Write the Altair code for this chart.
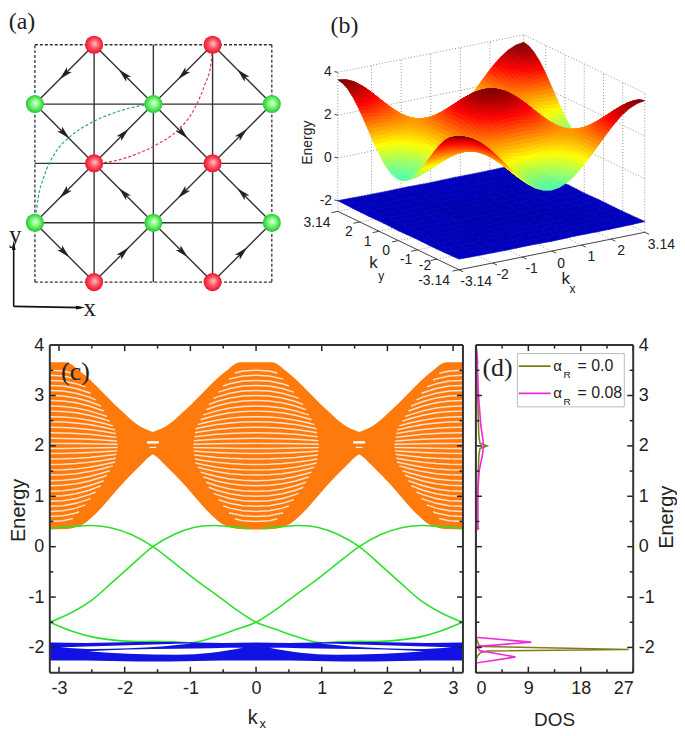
import math
import altair as alt
import numpy as np
import pandas as pd

SANS = "Liberation Sans"
SERIF = "Liberation Serif"

# ---------- panel (a) lattice ----------
RED_NODES = [(1, 0), (3, 0), (1, 2), (3, 2), (1, 4), (3, 4)]
GREEN_NODES = [(0, 1), (2, 1), (4, 1), (0, 3), (2, 3), (4, 3)]
ARROWS = [((1,0),(0,1)),((2,1),(1,0)),((3,0),(2,1)),((4,1),(3,0)),
          ((0,1),(1,2)),((1,2),(2,1)),((2,1),(3,2)),((3,2),(4,1)),
          ((1,2),(0,3)),((2,3),(1,2)),((3,2),(2,3)),((4,3),(3,2)),
          ((0,3),(1,4)),((1,4),(2,3)),((2,3),(3,4)),((3,4),(4,3))]
GRID_H = [1, 2, 3]
GRID_V = [1, 2, 3]
BOX = [(0,0,4,0),(4,0,4,4),(4,4,0,4),(0,4,0,0)]
GREEN_ARC = [(0,3),(0.056,2.58),(0.157,2.21),(0.325,1.85),(0.605,1.54),(0.94,1.32),(1.33,1.15),(1.67,1.05),(2,1)]
RED_ARC = [(1,2),(1.33,1.96),(1.67,1.86),(2.06,1.68),(2.39,1.46),(2.67,1.12),(2.87,0.67),(2.97,0.34),(3,0)]
AXIS_CORNER = (-0.358, 4.41)
AXIS_Y_TIP = (-0.358, 3.38)
AXIS_X_TIP = (0.773, 4.43)
A_TEXT = [("(a)", -0.218, -0.39, 24), ("y", -0.33, 3.21, 25), ("x", 0.924, 4.44, 25)]

# ---------- panel (b) surface: one quadrant of the upper band, k from -pi to 0 in pi/12 steps ----------
SURF_QUAD = [
 [3.65,3.59,3.43,3.17,2.83,2.43,2.00,1.57,1.18,0.83,0.57,0.41,0.35],
 [3.59,3.54,3.38,3.13,2.80,2.41,2.00,1.59,1.20,0.87,0.62,0.46,0.41],
 [3.43,3.38,3.24,3.01,2.71,2.37,2.00,1.63,1.29,0.99,0.76,0.62,0.57],
 [3.17,3.13,3.01,2.83,2.58,2.30,2.00,1.70,1.42,1.17,0.99,0.87,0.83],
 [2.83,2.80,2.71,2.58,2.41,2.21,2.00,1.79,1.59,1.42,1.29,1.20,1.18],
 [2.43,2.41,2.37,2.30,2.21,2.11,2.00,1.89,1.79,1.70,1.63,1.59,1.57],
 [2.00,2.00,2.00,2.00,2.00,2.00,2.00,2.00,2.00,2.00,2.00,2.00,2.00],
 [1.57,1.59,1.63,1.70,1.79,1.89,2.00,2.11,2.21,2.30,2.37,2.41,2.43],
 [1.18,1.20,1.29,1.42,1.59,1.79,2.00,2.21,2.41,2.58,2.71,2.80,2.83],
 [0.83,0.87,0.99,1.17,1.42,1.70,2.00,2.30,2.58,2.83,3.01,3.13,3.17],
 [0.57,0.62,0.76,0.99,1.29,1.63,2.00,2.37,2.71,3.01,3.24,3.38,3.43],
 [0.41,0.46,0.62,0.87,1.20,1.59,2.00,2.41,2.80,3.13,3.38,3.54,3.59],
 [0.35,0.41,0.57,0.83,1.18,1.57,2.00,2.43,2.83,3.17,3.43,3.59,3.65],
]
SHEET_Z = [
 [-2.00,-2.02,-2.03,-2.02,-2.04,-2.02,-2.03,-2.02,-2.00],
 [-2.02,-2.05,-2.07,-2.06,-2.05,-2.06,-2.07,-2.05,-2.02],
 [-2.03,-2.07,-2.10,-2.08,-2.06,-2.08,-2.10,-2.07,-2.03],
 [-2.02,-2.06,-2.08,-2.12,-2.10,-2.12,-2.08,-2.06,-2.02],
 [-2.04,-2.05,-2.06,-2.10,-2.14,-2.10,-2.06,-2.05,-2.04],
 [-2.02,-2.06,-2.08,-2.12,-2.10,-2.12,-2.08,-2.06,-2.02],
 [-2.03,-2.07,-2.10,-2.08,-2.06,-2.08,-2.10,-2.07,-2.03],
 [-2.02,-2.05,-2.07,-2.06,-2.05,-2.06,-2.07,-2.05,-2.02],
 [-2.00,-2.02,-2.03,-2.02,-2.04,-2.02,-2.03,-2.02,-2.00],
]
B_TICKS_K = [-2, -1, 0, 1, 2]
B_TICKS_Z = [-2, 0, 2, 4]
KX_LABELS = [(-3.14,"-3.14",52,37),(-2,"-2",30,37),(-1,"-1",28,37),(0,"0",28,39),(1,"1",30,37),(2,"2",30,36),(3.14,"3.14",50,38)]
KY_LABELS = [(3.14,"3.14",-63,36),(2,"2",-33,31),(1,"1",-35,32),(0,"0",-37,32),(-1,"-1",-35,31),(-2,"-2",-36,22),(-3.14,"-3.14",-75,35)]
JET_DOMAIN = [-2.4, -1.64, -0.13, 1.38, 2.89, 3.65]
JET_RANGE = ["#000080", "#0000ff", "#00ffff", "#ffff00", "#ff0000", "#800000"]

# ---------- panel (c) bands ----------
ORANGE_K = [-3.14,-2.9,-2.67,-2.37,-2.07,-1.77,-1.62,-1.57,-1.52,-1.37,-1.07,-0.77,-0.47,-0.24,0,
            0.24,0.47,0.77,1.07,1.37,1.52,1.57,1.62,1.77,2.07,2.37,2.67,2.9,3.14]
ORANGE_TOP = [3.66,3.66,3.47,3.11,2.72,2.39,2.30,2.28,2.30,2.39,2.72,3.11,3.47,3.66,3.66,
              3.66,3.47,3.11,2.72,2.39,2.30,2.28,2.30,2.39,2.72,3.11,3.47,3.66,3.66]
ORANGE_BOT = [0.34,0.35,0.42,0.75,1.20,1.60,1.79,1.83,1.79,1.60,1.20,0.75,0.42,0.35,0.34,
              0.35,0.42,0.75,1.20,1.60,1.79,1.83,1.79,1.60,1.20,0.75,0.42,0.35,0.34]
STRIPE_LEVELS = [0.05,0.15,0.26,0.37,0.48,0.58,0.69,0.79,0.90,1.00,1.10,1.20,1.30,1.40,1.50]
STRIPE_A = [0, 0.5, 1.0, 1.3, 1.55]
STRIPE_W = [0.96, 0.92, 0.72, 0.5, 0.28]
PROFILE_T = [0, 0.2, 0.4, 0.6, 0.8, 1.0, 1.1]
PROFILE_G = [1, 0.99, 0.95, 0.88, 0.78, 0.66, 0.60]
LOBES = [(-3.14, 1, 1.08), (0, 1, 1.0), (0, -1, 1.0), (3.14, -1, 1.08)]
EYE = [(-1.66,-1.48,2.07,2.4),(1.48,1.66,2.07,2.4),(-1.62,-1.52,1.97,1.0),(1.52,1.62,1.97,1.0)]

GREEN_1K = [-3.14,-2.8,-2.5,-2.2,-1.9,-1.57,-1.25,-0.95,-0.65,-0.35,-0.1]
GREEN_1E = [-1.5,-1.3,-1.06,-0.72,-0.37,0,0.24,0.38,0.42,0.39,0.36]
GREEN_3K = [-3.14,-2.8,-2.5,-2.2,-1.9,-1.57,-1.25,-0.93,-0.6,-0.3,0,0.3,0.6,0.9,1.2,1.57,1.9,2.2,2.5,2.8,3.14]
GREEN_3E = [-1.5,-1.68,-1.79,-1.85,-1.88,-1.88,-1.89,-1.9,-1.78,-1.64,-1.5,-1.25,-0.96,-0.68,-0.37,0,0.24,0.37,0.42,0.40,0.36]

BLUE_K = [-3.14,-2.6,-2.2,-1.8,-1.3,-0.9,-0.5,0,0.5,0.9,1.3,1.8,2.2,2.6,3.14]
BLUE_TOP = [-1.90,-1.91,-1.90,-1.89,-1.89,-1.90,-1.91,-1.90,-1.91,-1.90,-1.89,-1.89,-1.90,-1.91,-1.90]
BLUE_BOT = [-2.26,-2.26,-2.27,-2.28,-2.28,-2.27,-2.26,-2.26,-2.26,-2.27,-2.28,-2.28,-2.27,-2.26,-2.26]
GAP1_K = [-2.98,-2.45,-1.94,-1.44,-0.98]
GAP1_HI = [-2.00,-1.975,-1.955,-1.935,-1.922]
GAP1_LO = [-2.00,-2.03,-2.015,-1.981,-1.922]
GAP2_K = [-2.55,-1.94,-1.19,-0.68,-0.20]
GAP2_HI = [-2.073,-2.04,-2.027,-2.014,-2.008]
GAP2_LO = [-2.073,-2.126,-2.146,-2.106,-2.008]

# ---------- panel (d) DOS ----------
OLIVE_E = [4.0,3.66,3.0,2.2,2.05,2.0,1.95,1.8,1.0,0.36,0.33,-1.8,-1.95,-1.98,-2.04,-2.07,-2.1,-2.18,-2.27,-2.5]
OLIVE_D = [0,0.25,0.3,0.5,0.7,1.9,0.7,0.5,0.3,0.3,0,0,0.5,1.2,26.2,2.0,0.8,0.2,0,0]
MAG_E = [4.0,3.66,3.6,3.0,2.4,2.13,2.0,1.8,1.5,1.0,0.42,0.36,0.33,-1.797,-1.895,-1.98,-2.06,-2.19,-2.31,-2.5]
MAG_D = [0.05,0.3,0.2,0.45,0.85,1.2,1.3,1.1,0.55,0.3,0.3,0.45,0,0,9.5,0.3,0.57,6.8,0,0]

XS_C = alt.Scale(domain=[-3.14, 3.15], nice=False, zero=False)
YS = alt.Scale(domain=[-2.5, 4], nice=False, zero=False)
XS_D = alt.Scale(domain=[0, 27], nice=False, zero=False)

# ================= panel (a) =================
XA = alt.Scale(domain=[0.252, 4.437], nice=False, zero=False)
YA = alt.Scale(domain=[4.777, -0.592], nice=False, zero=False)
def xa(f="x"): return alt.X(f"{f}:Q", scale=XA, axis=None)
def ya(f="y"): return alt.Y(f"{f}:Q", scale=YA, axis=None)

seg = [dict(x=0, x2=4, y=j, y2=j) for j in GRID_H] + [dict(x=i, x2=i, y=0, y2=4) for i in GRID_V]
seg += [dict(x=a[0], y=a[1], x2=b[0], y2=b[1]) for a, b in ARROWS]
a_lines = alt.Chart(pd.DataFrame(seg)).mark_rule(color="#333333", strokeWidth=1.4).encode(
    x=xa(), x2="x2:Q", y=ya(), y2="y2:Q")
a_box = alt.Chart(pd.DataFrame([dict(x=p[0], y=p[1], x2=p[2], y2=p[3]) for p in BOX])).mark_rule(
    color="#333333", strokeWidth=1.3, strokeDash=[3, 2]).encode(x=xa(), x2="x2:Q", y=ya(), y2="y2:Q")
def arc(points, color):
    return alt.Chart(pd.DataFrame(points, columns=["x", "y"]).assign(o=range(len(points)))).mark_line(
        color=color, strokeWidth=1.2, strokeDash=[3, 2], interpolate="monotone").encode(
        x=xa(), y=ya(), order="o:Q")
arrow_rows = []
for a, b in ARROWS:
    arrow_rows.append(dict(x=(a[0]+b[0])/2, y=(a[1]+b[1])/2,
                           ang=(math.degrees(math.atan2(b[0]-a[0], -(b[1]-a[1]))) + 360) % 360))
ARROW_PATH = "M0,-1L0.5,1L0,0.55L-0.5,1Z"
a_heads = alt.Chart(pd.DataFrame(arrow_rows)).mark_point(
    shape=ARROW_PATH, filled=True, size=190, color="#222222", opacity=1).encode(
    x=xa(), y=ya(), angle=alt.Angle("ang:Q", scale=None))
def nodes(pts, stops):
    grad = alt.RadialGradient(gradient="radial", x1=0.55, y1=0.42, r1=0, x2=0.5, y2=0.5, r2=0.52,
                              stops=[alt.GradientStop(color=c, offset=o) for o, c in stops])
    return alt.Chart(pd.DataFrame(pts, columns=["x", "y"])).mark_circle(size=330, fill=grad, opacity=1).encode(
        x=xa(), y=ya())
a_red = nodes(RED_NODES, [(0, "#ffc4cc"), (0.55, "#ff4a58"), (1, "#e4102c")])
a_green = nodes(GREEN_NODES, [(0, "#e8ffe4"), (0.55, "#66f266"), (1, "#1fc030")])
a_ax = alt.Chart(pd.DataFrame([
    dict(x=AXIS_CORNER[0], y=AXIS_CORNER[1], x2=AXIS_Y_TIP[0], y2=AXIS_Y_TIP[1]),
    dict(x=AXIS_CORNER[0], y=AXIS_CORNER[1], x2=AXIS_X_TIP[0], y2=AXIS_X_TIP[1])])).mark_rule(
    color="#111111", strokeWidth=1.6).encode(x=xa(), x2="x2:Q", y=ya(), y2="y2:Q")
a_axh = alt.Chart(pd.DataFrame([dict(x=AXIS_Y_TIP[0], y=AXIS_Y_TIP[1], ang=0),
                                dict(x=AXIS_X_TIP[0], y=AXIS_X_TIP[1], ang=90)])).mark_point(
    shape="M0,-1L0.4,1L-0.4,1Z", filled=True, size=90, color="#111111", opacity=1).encode(
    x=xa(), y=ya(), angle=alt.Angle("ang:Q", scale=None))
a_text = alt.layer(*[
    alt.Chart(pd.DataFrame([dict(x=x, y=y, t=t)])).mark_text(font=SERIF, fontSize=s, color="#222222").encode(
        x=xa(), y=ya(), text="t:N") for t, x, y, s in A_TEXT])
panel_a = alt.layer(a_box, a_lines, arc(GREEN_ARC, "#2aa878"), arc(RED_ARC, "#dc3c56"), a_heads, a_red, a_green,
                    a_ax, a_axh, a_text).properties(width=249, height=320)

# ================= panel (b) =================
PROJ = dict(type="identity", scale=1, translate=[0, 0])
def proj(kx, ky, z):
    u, v = (kx + 3.14) / 6.28, (ky + 3.14) / 6.28
    return [(510 + 560*u - 365*v) / 3 - 8, (808 - 113*u - 176*v - (z + 2.5) * 64.5) / 3 - 8]

half = [r + r[-2::-1] for r in SURF_QUAD]
SURF = half + half[-2::-1]
n = len(SURF)
ks = [-3.14 + 6.28 * i / (n - 1) for i in range(n)]
def quads(zz, kk, sub=1):
    # sub > 1 shades each cell in finer steps, as a surface plot's interpolated shading does
    cells = []
    m = len(kk)
    for i in range(m - 1):
        for j in range(m - 1):
            for a in range(sub):
                for b in range(sub):
                    cells.append((i + a / sub + j + b / sub, i, j, a, b))
    cells.sort(key=lambda t: -t[0])
    def pt(i, j, s, t):
        z = (zz[j][i]*(1-s)*(1-t) + zz[j][i+1]*s*(1-t) + zz[j+1][i+1]*s*t + zz[j+1][i]*(1-s)*t)
        return kk[i] + s*(kk[i+1]-kk[i]), kk[j] + t*(kk[j+1]-kk[j]), z
    out = []
    for _, i, j, a, b in cells:
        c = [pt(i, j, a/sub, b/sub), pt(i, j, (a+1)/sub, b/sub), pt(i, j, (a+1)/sub, (b+1)/sub), pt(i, j, a/sub, (b+1)/sub)]
        ring = [[round(v, 2) for v in proj(*p)] for p in c]
        mean = sum(p[2] for p in c) / 4
        out.append({"type": "Feature", "properties": {"z": round(mean, 3)},
                    "geometry": {"type": "Polygon", "coordinates": [ring + [ring[0]]]}})
    return out
def line_feat(pts):
    return {"type": "Feature", "properties": {}, "geometry": {"type": "LineString", "coordinates": pts}}

dotted = []
L, H = -3.14, 3.14
for k in B_TICKS_K:
    dotted.append(line_feat([proj(k, H, -2.5), proj(k, H, 4)]))
    dotted.append(line_feat([proj(H, k, -2.5), proj(H, k, 4)]))
    dotted.append(line_feat([proj(k, L, -2.5), proj(k, H, -2.5)]))
    dotted.append(line_feat([proj(L, k, -2.5), proj(H, k, -2.5)]))
for z in B_TICKS_Z:
    dotted.append(line_feat([proj(L, H, z), proj(H, H, z), proj(H, L, z)]))
dotted.append(line_feat([proj(L, H, -2.5), proj(L, H, 4)]))
dotted.append(line_feat([proj(H, H, -2.5), proj(H, H, 4)]))
dotted.append(line_feat([proj(H, L, -2.5), proj(H, L, 4)]))
dotted.append(line_feat([proj(L, H, -2.5), proj(H, H, -2.5), proj(H, L, -2.5)]))

solid = [line_feat([proj(L, H, -2.5), proj(L, L, -2.5), proj(H, L, -2.5)])]
for k in B_TICKS_K + [L, H]:
    solid.append(line_feat([proj(k, L, -2.5), proj(k, L - 0.22, -2.5)]))
    solid.append(line_feat([proj(L, k, -2.5), proj(L - 0.22, k, -2.5)]))
for z in B_TICKS_Z:
    solid.append(line_feat([proj(L, H, z), proj(L - 0.05, H + 0.1, z)]))

JET = alt.Scale(domain=JET_DOMAIN, range=JET_RANGE, interpolate="rgb", clamp=True)
def surf_layer(feats):
    return alt.Chart(alt.Data(values=feats)).mark_geoshape(strokeWidth=0.7, opacity=1).encode(
        fill=alt.Fill("properties.z:Q", scale=JET, legend=None),
        stroke=alt.Stroke("properties.z:Q", scale=JET, legend=None)).project(**PROJ)
b_dot = alt.Chart(alt.Data(values=dotted)).mark_geoshape(filled=False, stroke="#777777", strokeWidth=0.8,
                                                         strokeDash=[1, 2]).project(**PROJ)
b_sol = alt.Chart(alt.Data(values=solid)).mark_geoshape(filled=False, stroke="#444444", strokeWidth=1).project(**PROJ)
sheet_k = [-3.14 + 6.28 * i / 8 for i in range(9)]

rows = []
for k, t, dx_, dy_ in KX_LABELS:
    p = proj(k, L, -2.5); rows.append(dict(px=p[0] + dx_/3, py=p[1] + dy_/3, t=t))
for k, t, dx_, dy_ in KY_LABELS:
    p = proj(L, k, -2.5); rows.append(dict(px=p[0] + dx_/3, py=p[1] + dy_/3, t=t))
for z, t in zip(B_TICKS_Z, ["-2", "0", "2", "4"]):
    p = proj(L, H, z); rows.append(dict(px=p[0] - 10 if z >= 0 else p[0] - 12, py=p[1], t=t))
def btext(df, **kw):
    base = dict(font=SANS, fontSize=14, color="#222222")
    base.update(kw)
    return alt.Chart(pd.DataFrame(df)).mark_text(**base).encode(
        longitude="px:Q", latitude="py:Q", text="t:N").project(**PROJ)
b_labels = btext(rows)
b_titles = alt.layer(
    btext([dict(px=55/3-8, py=425/3-8, t="Energy")], angle=270),
    btext([dict(px=252/3-8, py=788/3-8, t="k")], fontSize=17),
    btext([dict(px=276/3-8, py=826/3-8, t="y")], fontSize=12),
    btext([dict(px=832/3-8, py=835/3-8, t="k")], fontSize=17),
    btext([dict(px=852/3-8, py=866/3-8, t="x")], fontSize=12),
    btext([dict(px=165/3-8, py=72/3-8, t="(b)")], font=SERIF, fontSize=24),
)
panel_b = alt.layer(b_dot, surf_layer(quads(SHEET_Z, sheet_k, 2)), b_sol, surf_layer(quads(SURF, ks, 3)),
                    b_labels, b_titles).properties(width=379, height=320)

# ================= shared tick frame =================
def tick_frame(xmaj, xmin, ymaj, ymin_, x0, x1, xs):
    dx = (x1 - x0) / xs
    dy = 6.5 / 329
    r = []
    for x in xmaj:
        r += [dict(a=x, a2=x, b=-2.5, b2=-2.5+6*dy), dict(a=x, a2=x, b=4, b2=4-6*dy)]
    for x in xmin:
        r += [dict(a=x, a2=x, b=-2.5, b2=-2.5+3.5*dy), dict(a=x, a2=x, b=4, b2=4-3.5*dy)]
    for y in ymaj:
        r += [dict(a=x0, a2=x0+6*dx, b=y, b2=y), dict(a=x1, a2=x1-6*dx, b=y, b2=y)]
    for y in ymin_:
        r += [dict(a=x0, a2=x0+3.5*dx, b=y, b2=y), dict(a=x1, a2=x1-3.5*dx, b=y, b2=y)]
    return r

# ================= panel (c) =================
LABEL = "toString(datum.value)"
XAX_C = alt.Axis(values=[-3, -2, -1, 0, 1, 2, 3], labelFont=SANS, labelFontSize=18, labelColor="#222222",
                 domain=False, ticks=False, grid=False, title=None, labelPadding=7, tickSize=0, labelFlush=False, labelExpr=LABEL)
YAX_C = alt.Axis(values=[-2, -1, 0, 1, 2, 3, 4], labelFont=SANS, labelFontSize=18, labelColor="#222222",
                 domain=False, ticks=False, grid=False, title=None, labelPadding=6, tickSize=0, labelExpr=LABEL)
def xc(f="k"): return alt.X(f"{f}:Q", scale=XS_C, axis=XAX_C)
def yc(f="e"): return alt.Y(f"{f}:Q", scale=YS, axis=YAX_C)

c_orange = alt.Chart(pd.DataFrame(dict(k=ORANGE_K, e=ORANGE_TOP, e2=ORANGE_BOT))).mark_area(color="#ff7a0c", opacity=1, interpolate="monotone").encode(
    x=xc(), y=yc(), y2="e2:Q")
st = []
sid = 0
for c, sgn, scale in LOBES:
    for lev in STRIPE_LEVELS:
        for s in (1, -1):
            a = lev * s
            w = float(np.interp(abs(a), STRIPE_A, STRIPE_W)) * scale
            ts = [t for t in PROFILE_T if t < w] + [w]
            for o, t in enumerate(ts):
                st.append(dict(sid=sid, o=o, k=c + sgn * t, e=2 + a * float(np.interp(t, PROFILE_T, PROFILE_G))))
            sid += 1
c_stripes = alt.Chart(pd.DataFrame(st)).mark_line(color="#ffe8d6", strokeWidth=1.5, opacity=0.95).encode(
    x=xc(), y=yc(), detail="sid:N", order="o:Q")
c_eye = alt.Chart(pd.DataFrame([dict(k=a, k2=b, e=e, w=w) for a, b, e, w in EYE])).mark_rule(color="white").encode(
    x=xc(), x2="k2:Q", y=yc(), strokeWidth=alt.StrokeWidth("w:Q", scale=None))
def gline(k, e):
    return alt.Chart(pd.DataFrame(dict(k=k, e=e))).mark_line(color="#2ce02c", strokeWidth=1.6, interpolate="cardinal").encode(
        x=xc(), y=yc())
c_blue = alt.Chart(pd.DataFrame(dict(k=BLUE_K, e=BLUE_TOP, e2=BLUE_BOT))).mark_area(color="#1212e4", opacity=1).encode(
    x=xc(), y=yc(), y2="e2:Q")
def gap(k, hi, lo):
    return alt.Chart(pd.DataFrame(dict(k=k, e=hi, e2=lo))).mark_area(color="white", opacity=1, interpolate="monotone").encode(
        x=xc(), y=yc(), y2="e2:Q")
neg = lambda xs: [-v for v in xs[::-1]]
rev = lambda xs: xs[::-1]
c_ticks = alt.Chart(pd.DataFrame(tick_frame([-3,-2,-1,0,1,2,3], [-2.5,-1.5,-0.5,0.5,1.5,2.5],
                                            [-2,-1,0,1,2,3,4], [-1.5,-0.5,0.5,1.5,2.5,3.5], -3.14, 3.15, 415))).mark_rule(
    color="#222222", strokeWidth=1.5).encode(x=xc("a"), x2="a2:Q", y=yc("b"), y2="b2:Q")
def frame(x0, x1, enc_x, enc_y):
    df = pd.DataFrame([dict(a=x0, a2=x1, b=-2.5, b2=-2.5), dict(a=x0, a2=x1, b=4, b2=4),
                       dict(a=x0, a2=x0, b=-2.5, b2=4), dict(a=x1, a2=x1, b=-2.5, b2=4)])
    return alt.Chart(df).mark_rule(color="#333333", strokeWidth=2).encode(x=enc_x("a"), x2="a2:Q", y=enc_y("b"), y2="b2:Q")
c_lab = alt.Chart(pd.DataFrame([dict(k=-2.75, e=3.47, t="(c)")])).mark_text(font=SERIF, fontSize=26, color="#222222").encode(
    x=xc(), y=yc(), text="t:N")
def c_out(k, py, t, size, angle=0, xval=None):
    m = alt.Chart(pd.DataFrame([dict(k=k, t=t)])).mark_text(font=SANS, fontSize=size, color="#222222", angle=angle)
    return m.encode(x=xc() if xval is None else alt.value(xval), y=alt.value(py), text="t:N")
panel_c = alt.layer(
    c_orange, c_stripes, c_eye,
    gline(GREEN_1K, GREEN_1E), gline(neg(GREEN_1K), rev(GREEN_1E)),
    gline(GREEN_3K, GREEN_3E), gline(neg(GREEN_3K), rev(GREEN_3E)),
    c_blue, gap(GAP1_K, GAP1_HI, GAP1_LO), gap(GAP2_K, GAP2_HI, GAP2_LO),
    gap(neg(GAP1_K), rev(GAP1_HI), rev(GAP1_LO)), gap(neg(GAP2_K), rev(GAP2_HI), rev(GAP2_LO)),
    c_ticks, frame(-3.14, 3.15, xc, yc), c_lab,
    c_out(-0.05, 375, "k", 20), c_out(0.1, 381, "x", 13),
    c_out(0, 166, "Energy", 20, angle=270, xval=-31),
).properties(width=415, height=329)

# ================= panel (d) =================
XAX_D = alt.Axis(values=[0, 9, 18, 27], labelFont=SANS, labelFontSize=18, labelColor="#222222",
                 domain=False, ticks=False, grid=False, title=None, labelPadding=7, tickSize=0, labelExpr=LABEL)
YAX_D = alt.Axis(values=[-2, -1, 0, 1, 2, 3, 4], labelFont=SANS, labelFontSize=18, labelColor="#222222", orient="right",
                 domain=False, ticks=False, grid=False, title=None, labelPadding=5, tickSize=0, labelExpr=LABEL)
def xd(f="d"): return alt.X(f"{f}:Q", scale=XS_D, axis=XAX_D)
def yd(f="e"): return alt.Y(f"{f}:Q", scale=YS, axis=YAX_D)
def dos(d, e, color):
    return alt.Chart(pd.DataFrame(dict(d=d, e=e, o=range(len(d))))).mark_line(color=color, strokeWidth=1.6).encode(
        x=xd(), y=yd(), order="o:Q")
d_ticks = alt.Chart(pd.DataFrame(tick_frame([0,9,18,27], [4.5,13.5,22.5], [-2,-1,0,1,2,3,4],
                                            [-1.5,-0.5,0.5,1.5,2.5,3.5], 0, 27, 158))).mark_rule(
    color="#222222", strokeWidth=1.5).encode(x=xd("a"), x2="a2:Q", y=yd("b"), y2="b2:Q")
dx = lambda px: (px - 475) / 5.85
dy = lambda py: 4 - (py - 345) / 50.6
d_box = alt.Chart(pd.DataFrame([dict(d=dx(516.7), d2=dx(624), e=dy(353.5), e2=dy(407))])).mark_rect(
    fill="white", stroke="#bbbbbb", strokeWidth=1).encode(x=xd(), x2="d2:Q", y=yd(), y2="e2:Q")
d_legl = alt.Chart(pd.DataFrame([dict(d=dx(518), d2=dx(550), e=dy(366), c="#7f7f1a"),
                                 dict(d=dx(518), d2=dx(550), e=dy(393.5), c="#f028d8")])).mark_rule(strokeWidth=1.8).encode(
    x=xd(), x2="d2:Q", y=yd(), color=alt.Color("c:N", scale=None))
def dtext(px, py, t, size, align="center", font=SANS):
    return alt.Chart(pd.DataFrame([dict(d=dx(px), e=dy(py), t=t)])).mark_text(
        font=font, fontSize=size, color="#222222", align=align).encode(x=xd(), y=yd(), text="t:N")
def d_out(d, py, t, size, angle=0, xval=None):
    m = alt.Chart(pd.DataFrame([dict(d=d, t=t)])).mark_text(font=SANS, fontSize=size, color="#222222", angle=angle)
    return m.encode(x=xd() if xval is None else alt.value(xval), y=alt.value(py), text="t:N")
panel_d = alt.layer(
    dos(OLIVE_D, OLIVE_E, "#7f7f1a"), dos(MAG_D, MAG_E, "#f028d8"),
    d_ticks, frame(0, 27, xd, yd), d_box, d_legl,
    dtext(557, 366, "α", 15), dtext(566.5, 375, "R", 10), dtext(577, 366, "= 0.0", 16, "left"),
    dtext(557, 393.5, "α", 15), dtext(566.5, 402, "R", 10), dtext(577, 393.5, "= 0.08", 16, "left"),
    dtext(496.7, 368, "(d)", 26, font=SERIF),
    d_out(13.5, 377, "DOS", 19),
    d_out(0, 173, "Energy", 20, angle=270, xval=192),
).properties(width=158, height=329)

top = alt.hconcat(panel_a, panel_b, spacing=0)
bottom = alt.hconcat(panel_c, panel_d, spacing=6)
chart = alt.vconcat(top, bottom, spacing=8).properties(padding=0).configure_view(stroke=None)
chart.save("out.html", embed_options={"renderer": "svg", "actions": False})
